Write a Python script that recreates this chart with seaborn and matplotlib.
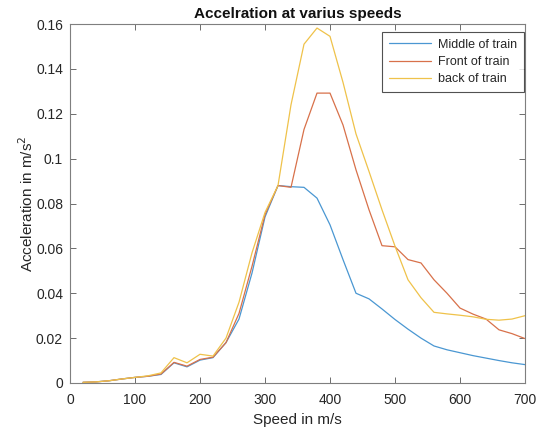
import matplotlib
matplotlib.use("Agg")
import matplotlib.pyplot as plt
import seaborn as sns
import pandas as pd
import numpy as np

speed = [20, 40, 60, 80, 100, 120, 140, 160, 180, 200, 220, 240, 260, 280, 300,
         320, 340, 360, 380, 400, 420, 440, 460, 480, 500, 520, 540, 560, 580,
         600, 620, 640, 660, 680, 700]

middle = [0.0003, 0.0005, 0.0010, 0.0018, 0.0025, 0.0030, 0.0038, 0.0090, 0.0072,
          0.0102, 0.0113, 0.0180, 0.0285, 0.0490, 0.0740, 0.0880, 0.0875, 0.0872,
          0.0824, 0.0705, 0.0550, 0.0400, 0.0375, 0.0330, 0.0283, 0.0240, 0.0200,
          0.0165, 0.0148, 0.0135, 0.0122, 0.0111, 0.0100, 0.0090, 0.0082]

front = [0.0003, 0.0005, 0.0010, 0.0018, 0.0025, 0.0030, 0.0040, 0.0092, 0.0075,
         0.0105, 0.0115, 0.0180, 0.0310, 0.0520, 0.0750, 0.0880, 0.0872, 0.1130,
         0.1292, 0.1292, 0.1150, 0.0950, 0.0772, 0.0612, 0.0607, 0.0550, 0.0535,
         0.0460, 0.0400, 0.0334, 0.0307, 0.0285, 0.0237, 0.0220, 0.0198]

back = [0.0003, 0.0005, 0.0010, 0.0018, 0.0025, 0.0032, 0.0045, 0.0113, 0.0090,
        0.0128, 0.0120, 0.0200, 0.0360, 0.0580, 0.0760, 0.0880, 0.1240, 0.1510,
        0.1582, 0.1545, 0.1340, 0.1110, 0.0943, 0.0772, 0.0610, 0.0460, 0.0380,
        0.0315, 0.0308, 0.0302, 0.0295, 0.0284, 0.0280, 0.0285, 0.0300]

labels = ["Middle of train", "Front of train", "back of train"]
yticklabels = ["0", "0.02", "0.04", "0.06", "0.08", "0.1", "0.12", "0.14", "0.16"]

df = pd.concat([
    pd.DataFrame({"speed": speed, "acc": middle, "series": labels[0]}),
    pd.DataFrame({"speed": speed, "acc": front, "series": labels[1]}),
    pd.DataFrame({"speed": speed, "acc": back, "series": labels[2]}),
], ignore_index=True)

sns.set_style("white")
plt.rcParams["font.family"] = ["Liberation Sans", "DejaVu Sans"]

fig = plt.figure(figsize=(5.36, 4.28), dpi=100)
ax = fig.add_axes([70 / 536, 1 - 383 / 428, 455 / 536, 359 / 428])

palette = {labels[0]: "#4a97d2", labels[1]: "#d8714a", labels[2]: "#efc24a"}
sns.lineplot(data=df, x="speed", y="acc", hue="series", palette=palette,
             linewidth=0.9, ax=ax, legend=True)

ax.set_xlim(0, 700)
ax.set_ylim(0, 0.16)
ax.set_xticks(np.arange(0, 701, 100))
ax.set_yticks(np.arange(0, 0.161, 0.02))
ax.set_yticklabels(yticklabels)
ax.tick_params(direction="in", length=4, width=0.6, color="#555555",
               labelsize=10, labelcolor="#262626", top=True, right=True,
               left=True, bottom=True)
ax.tick_params(axis="x", pad=7.5)
ax.tick_params(axis="y", pad=5)
for s in ax.spines.values():
    s.set_color("#7f7f7f")
    s.set_linewidth(0.8)

ax.set_xlabel("Speed in m/s", fontsize=11, color="#262626", labelpad=4)
ax.set_ylabel("Acceleration in m/s$^2$", fontsize=11, color="#262626", labelpad=0)
ax.set_title("Accelration at varius speeds", fontsize=11, fontweight="bold",
             color="#111111", pad=4)

leg = ax.legend(loc="upper right", bbox_to_anchor=(0.997, 0.978), fontsize=9,
                frameon=True, fancybox=False, edgecolor="#262626",
                handlelength=3.4, borderpad=0.55, labelspacing=0.42,
                handletextpad=0.5, borderaxespad=0.0)
leg.get_frame().set_linewidth(0.8)
for t in leg.get_texts():
    t.set_color("#262626")

fig.savefig("out.png", dpi=100, facecolor="white")
